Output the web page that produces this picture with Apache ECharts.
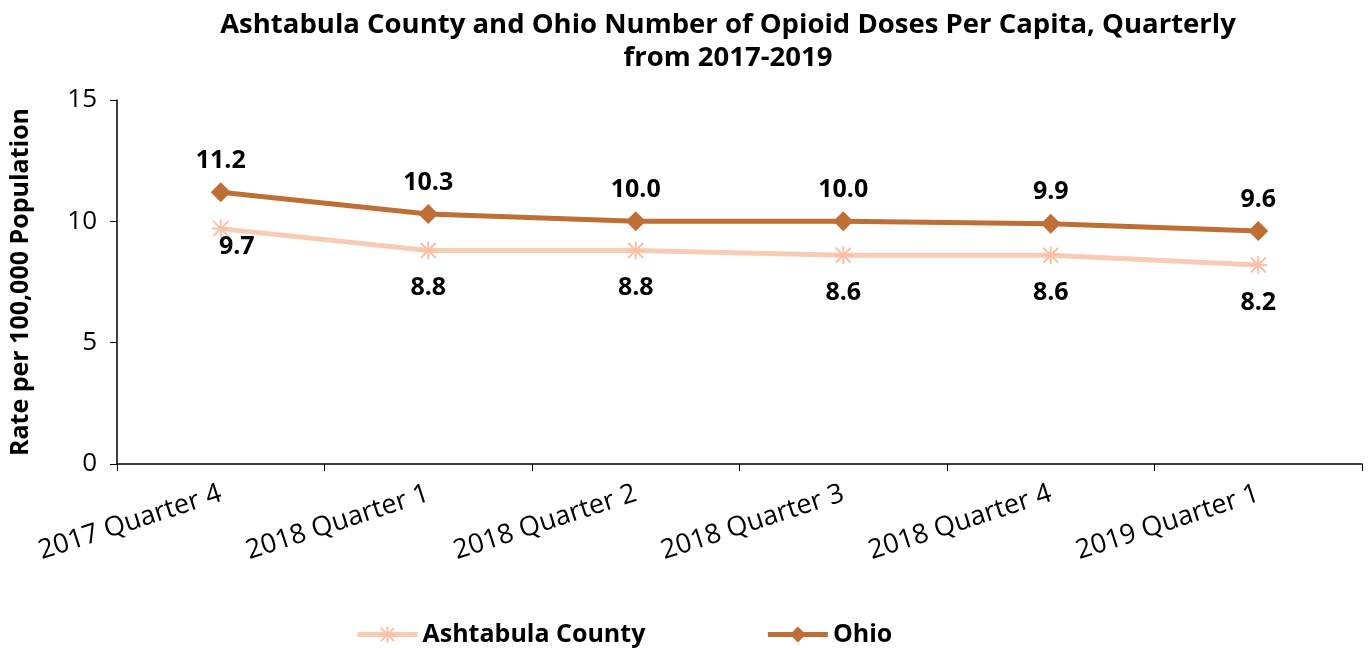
<!DOCTYPE html>
<html>
<head>
<meta charset="utf-8">
<script src="https://cdn.jsdelivr.net/npm/echarts@6/dist/echarts.min.js"></script>
<style>
html,body{margin:0;padding:0;background:#fff;}
#chart{width:1372px;height:648px;}
</style>
</head>
<body>
<div id="chart"></div>
<script>
const categories = ['2017 Quarter 4','2018 Quarter 1','2018 Quarter 2','2018 Quarter 3','2018 Quarter 4','2019 Quarter 1'];
const ashtabula = [9.7, 8.8, 8.8, 8.6, 8.6, 8.2];
const ohio = [11.2, 10.3, 10.0, 10.0, 9.9, 9.6];
const yTicks = [0, 5, 10, 15];

const FONT = '"Open Sans", "Noto Sans", sans-serif';
const asterisk = 'path://M0,0 L20,20 M20,0 L0,20 M10,-2 L10,22 M-2,10 L22,10';

const chart = echarts.init(document.getElementById('chart'));
chart.setOption({
  backgroundColor: '#fff',
  textStyle: { fontFamily: FONT },
  title: {
    text: 'Ashtabula County and Ohio Number of Opioid Doses Per Capita, Quarterly\nfrom 2017-2019',
    left: 723, textAlign: 'center', top: 4,
    textStyle: { fontFamily: FONT, fontSize: 27.5, fontWeight: 'bold', color: '#000', lineHeight: 33 }
  },
  legend: {
    top: 617, left: 350, itemGap: 120, itemWidth: 60, itemHeight: 20,
    lineStyle: { width: 5 },
    textStyle: { fontFamily: FONT, fontSize: 25, fontWeight: 'bold', color: '#000' },
    data: ['Ashtabula County', 'Ohio']
  },
  grid: { left: 117, right: 10, top: 100, bottom: 184 },
  xAxis: {
    type: 'category', data: categories, boundaryGap: true,
    axisLine: { lineStyle: { color: '#000', width: 1.5 } },
    axisTick: { show: true, alignWithLabel: false, length: 7, lineStyle: { color: '#000' } },
    axisLabel: { rotate: 18, fontSize: 27, color: '#000', fontFamily: FONT, margin: 29 }
  },
  yAxis: {
    type: 'value', min: 0, max: 15, interval: 5,
    name: 'Rate per 100,000 Population', nameLocation: 'middle', nameGap: 84,
    nameTextStyle: { fontFamily: FONT, fontSize: 25, fontWeight: 'bold', color: '#000' },
    axisLine: { show: true, lineStyle: { color: '#000', width: 1.5 } },
    axisTick: { show: true, length: 7, lineStyle: { color: '#000' } },
    splitLine: { show: false },
    axisLabel: { fontSize: 26, color: '#000', fontFamily: FONT, margin: 20,
      formatter: v => yTicks.includes(v) ? String(v) : '' }
  },
  series: [
    {
      name: 'Ashtabula County', type: 'line', data: ashtabula.map((v, i) => i === 0 ? {
        value: v, label: { offset: [16, -19] } } : v),
      color: '#F8CBB4',
      lineStyle: { color: '#F8CBB4', width: 5 },
      symbol: asterisk, symbolSize: 18,
      itemStyle: { color: 'rgba(0,0,0,0)', borderColor: '#F8C1A6', borderWidth: 2 },
      label: { show: true, position: 'bottom', distance: 15, fontSize: 25, fontWeight: 'bold',
        color: '#000', fontFamily: FONT, formatter: p => p.value.toFixed(1) },
      z: 2
    },
    {
      name: 'Ohio', type: 'line', data: ohio,
      color: '#BF6E35',
      lineStyle: { color: '#BF6E35', width: 5 },
      symbol: 'diamond', symbolSize: 20,
      itemStyle: { color: '#BF6E35' },
      label: { show: true, position: 'top', distance: 9, fontSize: 25, fontWeight: 'bold',
        color: '#000', fontFamily: FONT, formatter: p => p.value.toFixed(1) },
      z: 3
    }
  ]
});
</script>
</body>
</html>
